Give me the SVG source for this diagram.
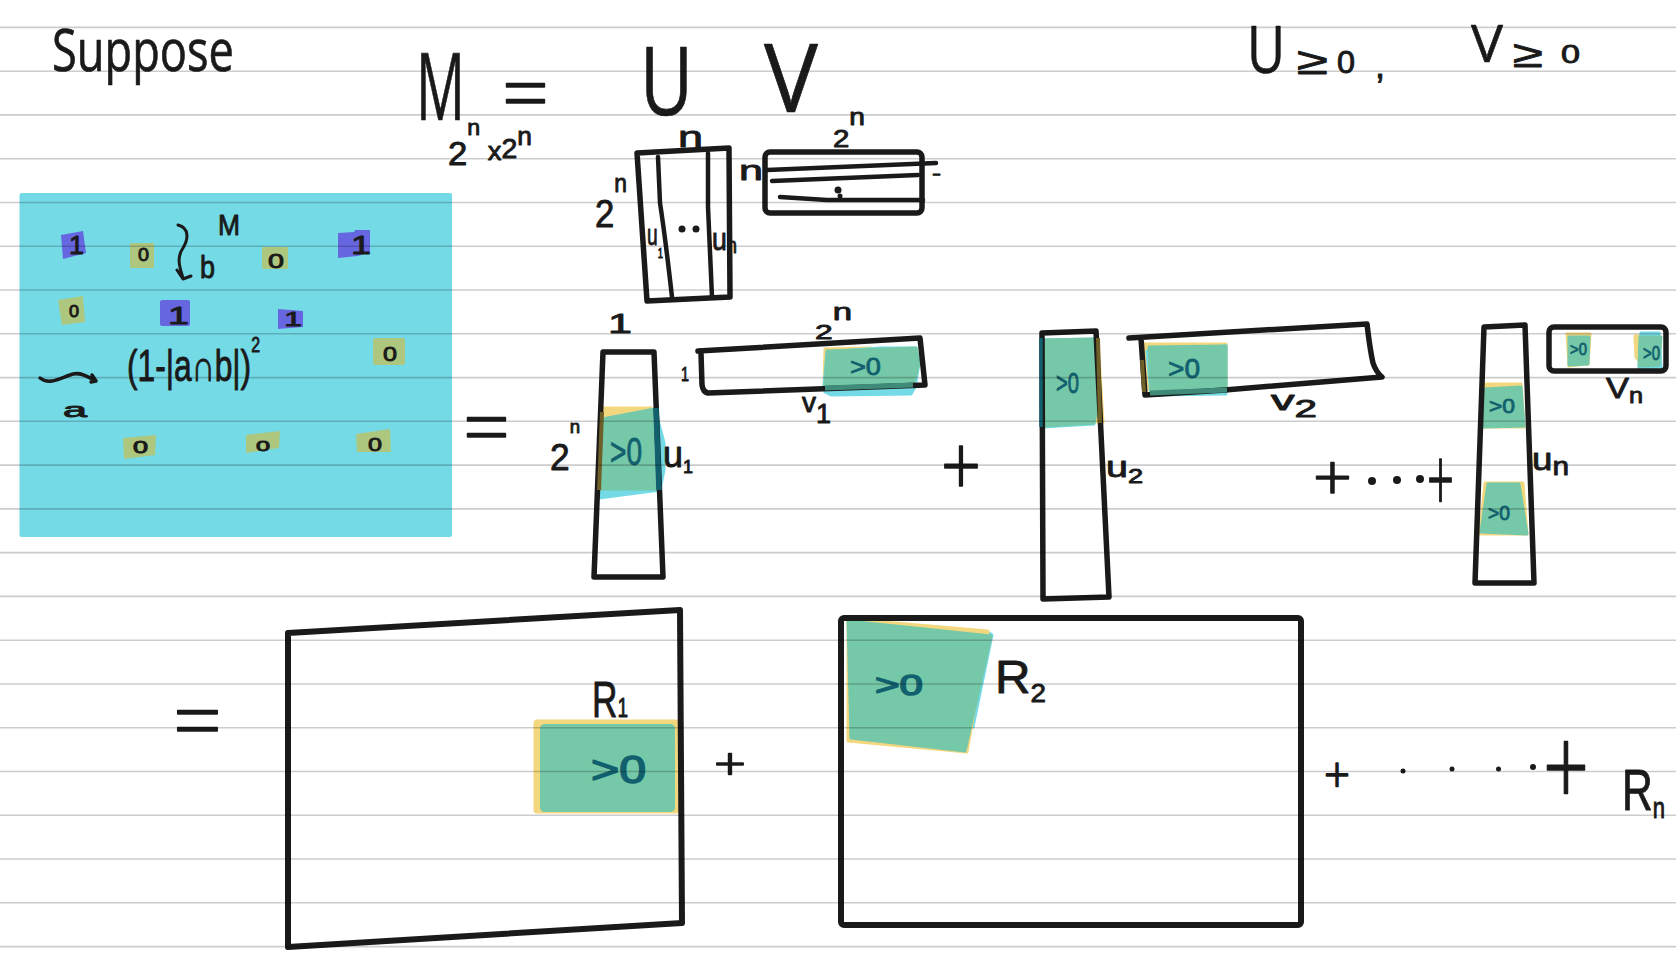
<svg xmlns="http://www.w3.org/2000/svg" width="1676" height="962" viewBox="0 0 1676 962">
<style>
text{font-family:"Liberation Sans","Open Sans",sans-serif;fill:#1a1a1a;stroke:#1a1a1a;stroke-width:.9;stroke-linejoin:round}
.b{stroke-width:.7;font-family:"Open Sans","Liberation Sans",sans-serif;font-weight:400}
.l{stroke-width:1.6;font-family:"Open Sans","Liberation Sans",sans-serif;font-weight:300}
.g{fill:#12606e;stroke:#12606e;stroke-width:.8}
.box{fill:none;stroke:#1a1a1a;stroke-width:5.5;stroke-linejoin:round;stroke-linecap:round}
.ln{fill:none;stroke:#1a1a1a;stroke-width:4.5;stroke-linejoin:round;stroke-linecap:round}
.teal{fill:none;stroke:#12606e;stroke-width:5.5}
.olive{fill:none;stroke:#6f5f28;stroke-width:4}
.deep{fill:none;stroke:#3f8a78;stroke-width:5}
.y{fill:#f3d77f;stroke:#f3d77f;stroke-width:3;stroke-linejoin:round}
.c{fill:#74dae6;stroke:#74dae6;stroke-width:3;stroke-linejoin:round}
.m{fill:#75c8a8;stroke:#75c8a8;stroke-width:3;stroke-linejoin:round}
.o{fill:#aec77e}
.p{fill:#6666e0}
.grid line{stroke:#000;stroke-opacity:.2;stroke-width:1.6}
.dot{fill:#1a1a1a}
</style>
<rect width="1676" height="962" fill="#fff"/>

<g id="matrix-panel-fill">
<rect x="19.5" y="193" width="432.5" height="344" rx="2" fill="#74dae6"/>
<polygon class="p" points="61,235 83,231 86,253 63,259"/>
<rect class="o" x="130" y="243" width="24" height="25" rx="1"/>
<rect class="o" x="262" y="247" width="26" height="22" rx="1"/>
<polygon class="p" points="338,233 354,232 355,230 370,230 370,252 358,256 338,258"/>
<polygon class="o" points="58,300 83,296 85,322 62,325"/>
<rect class="p" x="160" y="300" width="30" height="26" rx="2"/>
<polygon class="p" points="278,309 303,311 303,327 278,329"/>
<rect class="o" x="373" y="338" width="32" height="27" rx="2"/>
<polygon class="o" points="123,438 156,435 155,455 124,459"/>
<polygon class="o" points="246,435 280,431 279,448 246,453"/>
<polygon class="o" points="356,434 390,429 391,452 357,452"/>
</g>

<g id="highlights">
<polygon class="y" points="599,490 601,408 651,408 656,412 657,489"/>
<polygon class="c" points="599,498 660,490 664,470 664,443 658,420 657,409 603,419"/>
<polygon class="m" points="600,489 603,419 655,409 657,489"/>
<polygon class="y" points="824,386 825,349 870,348 880,351 880,386"/>
<polygon class="c" points="824,386 825,392 831,395 911,394 915,387 919,363 916,348 880,348 827,352"/>
<polygon class="m" points="825,386 827,351 916,348 919,363 913,385"/>
<polygon class="c" points="1042,340 1094,339 1098,403 1094,424 1042,427"/>
<polygon class="y" points="1096,339 1098,339 1103,422 1097,422"/>
<polygon class="m" points="1043,340 1094,339 1098,403 1094,423 1044,426"/>
<polygon class="y" points="1144,344 1226,344 1226,391 1144,389"/>
<polygon class="c" points="1147,351 1226,346 1226,394 1151,395"/>
<polygon class="m" points="1149,347 1226,346 1226,391 1151,392"/>
<polygon class="y" points="1484,384 1521,384 1524,427 1481,427"/>
<polygon class="m" points="1485,389 1521,387 1524,426 1483,427"/>
<polygon class="y" points="1485,483 1523,483 1527,534 1480,534"/>
<polygon class="m" points="1488,484 1519,484 1527,534 1481,532"/>
<polygon class="y" points="1567,334 1590,334 1588,364 1569,366"/>
<polygon class="m" points="1569,337 1589,337 1588,364 1569,365"/>
<polygon class="y" points="1635,336 1641,336 1641,364 1636,357"/>
<polygon class="c" points="1641,333 1659,333 1661,367 1639,369"/>
<polygon class="m" points="1640,337 1661,337 1659,365 1639,366"/>
<rect class="y" x="535" y="721" width="143" height="91" rx="2"/>
<rect class="m" x="541.500" y="725.500" width="132" height="85" rx="3"/>
<polygon class="c" points="989,633 992,635 973,727"/>
<polygon class="y" points="848,619 988,631 967,752 848,741"/>
<polygon class="m" points="848,621 991,636 965,751 851,738"/>
</g>

<g id="connectors">
<path class="ln" style="stroke-width:3" d="M178,225 C190,228 188,240 183,248 C176,258 180,268 183,278 M177,270 L183,279 L191,276"/>
<path class="ln" style="stroke-width:3.500" d="M40,378 C50,386 62,377 73,374 C82,372 90,378 96,381 M92,375 L96,381 L91,382"/>
</g>

<g id="title"><text class="b" x="52" y="71" font-size="58" textLength="182" lengthAdjust="spacingAndGlyphs">Suppose</text></g>

<g id="equation">
<text class="b" x="416" y="120" font-size="94" textLength="49" lengthAdjust="spacingAndGlyphs">M</text>
<text class="l" x="502" y="121" font-size="80" textLength="47" lengthAdjust="spacingAndGlyphs">=</text>
<text x="448" y="165" font-size="33" textLength="84" lengthAdjust="spacingAndGlyphs">2<tspan dy="-30" font-size="22">n</tspan><tspan dy="25" font-size="26"> x</tspan><tspan dy="-2" font-size="27">2</tspan><tspan dy="-13" font-size="25">n</tspan></text>
<text class="b" x="640" y="115" font-size="95" textLength="53" lengthAdjust="spacingAndGlyphs">U</text>
<text class="b" x="764" y="112" font-size="95" textLength="54" lengthAdjust="spacingAndGlyphs">V</text>
</g>

<g id="constraints">
<text class="b" x="1247" y="73" font-size="66" textLength="38" lengthAdjust="spacingAndGlyphs">U</text>
<text x="1297" y="74" font-size="38" textLength="31" lengthAdjust="spacingAndGlyphs">≥</text>
<text x="1337" y="73" font-size="31" textLength="18" lengthAdjust="spacingAndGlyphs">0</text>
<text x="1375" y="78" font-size="36" textLength="10" lengthAdjust="spacingAndGlyphs">,</text>
<text class="b" x="1471" y="62" font-size="52" textLength="32" lengthAdjust="spacingAndGlyphs">V</text>
<text x="1513" y="67" font-size="38" textLength="30" lengthAdjust="spacingAndGlyphs">≥</text>
<text x="1561" y="63" font-size="26" textLength="19" lengthAdjust="spacingAndGlyphs">0</text>
</g>

<g id="matrix-panel">
<text x="218" y="235" font-size="30" textLength="22" lengthAdjust="spacingAndGlyphs">M</text>
<text x="200" y="278" font-size="32" textLength="15" lengthAdjust="spacingAndGlyphs">b</text>
<text x="69" y="254" font-size="26" textLength="15" lengthAdjust="spacingAndGlyphs">1</text>
<text x="138" y="261" font-size="19" textLength="11" lengthAdjust="spacingAndGlyphs">0</text>
<text x="268" y="268" font-size="21" textLength="16" lengthAdjust="spacingAndGlyphs">0</text>
<text x="351" y="254" font-size="26" textLength="20" lengthAdjust="spacingAndGlyphs">1</text>
<text x="69" y="317" font-size="16" textLength="10" lengthAdjust="spacingAndGlyphs">0</text>
<text x="168" y="324" font-size="24" textLength="21" lengthAdjust="spacingAndGlyphs">1</text>
<text x="284" y="326" font-size="21" textLength="18" lengthAdjust="spacingAndGlyphs">1</text>
<text x="383" y="361" font-size="21" textLength="14" lengthAdjust="spacingAndGlyphs">0</text>
<text x="133" y="453" font-size="16" textLength="15" lengthAdjust="spacingAndGlyphs">0</text>
<text x="256" y="451" font-size="15" textLength="14" lengthAdjust="spacingAndGlyphs">0</text>
<text x="368" y="451" font-size="19" textLength="14" lengthAdjust="spacingAndGlyphs">0</text>
<text x="127" y="381" font-size="44" textLength="133" lengthAdjust="spacingAndGlyphs">(1-|a∩b|)<tspan dy="-29" font-size="22">2</tspan></text>
<text x="63" y="417" font-size="21" textLength="24" lengthAdjust="spacingAndGlyphs">a</text>
</g>

<g id="matrix-U">
<path class="box" d="M637,153 L729,148 L730,297 L647,301 Z"/>
<path class="ln" d="M658,157 L660,203 Q665,235 672,297 M708,153 L708,207 L712,297"/>
<circle class="dot" cx="682" cy="229" r="3.500"/><circle class="dot" cx="696" cy="229" r="3.500"/>
<text x="678" y="147" font-size="30" textLength="25" lengthAdjust="spacingAndGlyphs">n</text>
<text x="595" y="227" font-size="38" textLength="32" lengthAdjust="spacingAndGlyphs">2<tspan dy="-35" font-size="25">n</tspan></text>
<text x="647" y="245" font-size="30" textLength="16" lengthAdjust="spacingAndGlyphs">u<tspan dy="13" font-size="15">1</tspan></text>
<text x="712" y="250" font-size="32" textLength="25" lengthAdjust="spacingAndGlyphs">u<tspan dy="3" font-size="22">n</tspan></text>
</g>

<g id="matrix-V">
<rect class="box" x="765" y="152" width="157" height="61" rx="5"/>
<path class="ln" d="M767,170 L936,163 M772,181 L918,175 M780,197 L827,200 L923,200"/>
<circle class="dot" cx="838" cy="190" r="3.500"/><circle class="dot" cx="840" cy="196" r="2.500"/>
<text x="739" y="180" font-size="28" textLength="24" lengthAdjust="spacingAndGlyphs">n</text>
<text x="932" y="180" font-size="18" textLength="9" lengthAdjust="spacingAndGlyphs">-</text>
<text x="833" y="147" font-size="24" textLength="32" lengthAdjust="spacingAndGlyphs">2<tspan dy="-22" font-size="23">n</tspan></text>
</g>

<g id="equals-1"><text class="l" x="463" y="455" font-size="80" textLength="47" lengthAdjust="spacingAndGlyphs">=</text></g>

<g id="term-1">
<path class="box" d="M603,352 L654,352 L663,577 L594,577 Z"/>
<path class="box" d="M698,351 L920,338 L925,385 L708,393 Q703,392 702,385 L701,353"/>
<path class="olive" d="M602,412 L599,490"/>
<path class="teal" d="M656,408 L659,490"/>
<path class="deep" d="M825,388 L913,385"/>
<text x="608" y="333" font-size="28" textLength="24" lengthAdjust="spacingAndGlyphs">1</text>
<text x="550" y="470" font-size="36" textLength="30" lengthAdjust="spacingAndGlyphs">2<tspan dy="-37" font-size="19">n</tspan></text>
<text x="663" y="467" font-size="36" textLength="30" lengthAdjust="spacingAndGlyphs">u<tspan dy="6" font-size="18">1</tspan></text>
<text x="815" y="339" font-size="21" textLength="37" lengthAdjust="spacingAndGlyphs">2<tspan dy="-19" font-size="23">n</tspan></text>
<text x="681" y="381" font-size="20" textLength="8" lengthAdjust="spacingAndGlyphs">1</text>
<text x="802" y="412" font-size="28" textLength="29" lengthAdjust="spacingAndGlyphs">v<tspan dy="11" font-size="27">1</tspan></text>
<text class="g" x="610" y="465" font-size="38" textLength="32" lengthAdjust="spacingAndGlyphs">&gt;0</text>
<text class="g" x="850" y="375" font-size="24" textLength="31" lengthAdjust="spacingAndGlyphs">&gt;0</text>
<text class="l" x="941" y="496" font-size="85" textLength="40" lengthAdjust="spacingAndGlyphs">+</text>
</g>

<g id="term-2">
<path class="box" d="M1042,333 L1096,331 L1109,597 L1043,599 Z"/>
<path class="box" d="M1129,338 L1367,324 Q1370,350 1373,363 Q1376,372 1382,377 L1225,390 L1145,395 L1141,338"/>
<path class="teal" style="stroke-width:3.500" d="M1041,338 L1041,427"/>
<path class="olive" d="M1098,338 L1100,423 M1142,360 L1144,392"/>
<path class="deep" d="M1150,393 L1227,390"/>
<text class="g" x="1056" y="393" font-size="29" textLength="23" lengthAdjust="spacingAndGlyphs">&gt;0</text>
<text class="g" x="1168" y="378" font-size="28" textLength="32" lengthAdjust="spacingAndGlyphs">&gt;0</text>
<text x="1106" y="477" font-size="29" textLength="37" lengthAdjust="spacingAndGlyphs">u<tspan dy="6" font-size="20">2</tspan></text>
<text x="1271" y="410" font-size="28" textLength="46" lengthAdjust="spacingAndGlyphs">v<tspan dy="7" font-size="24">2</tspan></text>
</g>

<g id="ellipsis-1">
<text class="l" x="1313" y="500" font-size="65" textLength="39" lengthAdjust="spacingAndGlyphs">+</text>
<circle class="dot" cx="1372" cy="481" r="4"/><circle class="dot" cx="1397" cy="480" r="4"/><circle class="dot" cx="1420" cy="479" r="4"/>
<text class="l" x="1427" y="512" font-size="90" textLength="27" lengthAdjust="spacingAndGlyphs">+</text>
</g>

<g id="term-n">
<path class="box" d="M1484,327 L1525,325 L1534,583 L1475,583 Z"/>
<rect class="box" x="1549" y="327" width="117" height="44" rx="5"/>
<text class="g" x="1489" y="413" font-size="20" textLength="26" lengthAdjust="spacingAndGlyphs">&gt;0</text>
<text class="g" x="1488" y="520" font-size="20" textLength="22" lengthAdjust="spacingAndGlyphs">&gt;0</text>
<text class="g" x="1570" y="355" font-size="17" textLength="17" lengthAdjust="spacingAndGlyphs">&gt;0</text>
<text class="g" x="1643" y="360" font-size="21" textLength="17" lengthAdjust="spacingAndGlyphs">&gt;0</text>
<text x="1532" y="470" font-size="32" textLength="37" lengthAdjust="spacingAndGlyphs">u<tspan dy="5" font-size="26">n</tspan></text>
<text x="1606" y="398" font-size="30" textLength="37" lengthAdjust="spacingAndGlyphs">V<tspan dy="5" font-size="22">n</tspan></text>
</g>

<g id="equals-2"><text class="l" x="173" y="751" font-size="84" textLength="49" lengthAdjust="spacingAndGlyphs">=</text></g>

<g id="R1">
<path class="box" style="stroke-width:6" d="M288,633 L680,610 L682,923 L288,947 Z"/>
<text x="592" y="717" font-size="50" textLength="36" lengthAdjust="spacingAndGlyphs">R<tspan font-size="27">1</tspan></text>
<text class="g" style="stroke-width:1.500" x="591" y="783" font-size="38" textLength="55" lengthAdjust="spacingAndGlyphs">&gt;0</text>
<text class="l" x="714" y="780" font-size="45" textLength="32" lengthAdjust="spacingAndGlyphs">+</text>
</g>

<g id="R2">
<rect class="box" style="stroke-width:6" x="841" y="618" width="460" height="307" rx="3"/>
<text class="g" style="stroke-width:1.500" x="875" y="695" font-size="30" textLength="48" lengthAdjust="spacingAndGlyphs">&gt;0</text>
<text x="995" y="693" font-size="46" textLength="51" lengthAdjust="spacingAndGlyphs">R<tspan dy="9" font-size="26">2</tspan></text>
</g>

<g id="ellipsis-2">
<text class="l" x="1324" y="793" font-size="50" textLength="26" lengthAdjust="spacingAndGlyphs">+</text>
<circle class="dot" cx="1403" cy="771" r="2.500"/><circle class="dot" cx="1452" cy="769" r="2.500"/><circle class="dot" cx="1498.500" cy="769" r="2.500"/><circle class="dot" cx="1533" cy="767" r="3"/>
<text class="l" x="1543" y="807" font-size="110" textLength="46" lengthAdjust="spacingAndGlyphs">+</text>
<text x="1622" y="810" font-size="58" textLength="43" lengthAdjust="spacingAndGlyphs">R<tspan dy="8" font-size="30">n</tspan></text>
</g>

<g class="grid">
<line x1="0" x2="1676" y1="27.4" y2="27.4"/><line x1="0" x2="1676" y1="71.2" y2="71.2"/><line x1="0" x2="1676" y1="114.9" y2="114.9"/><line x1="0" x2="1676" y1="158.7" y2="158.7"/><line x1="0" x2="1676" y1="202.5" y2="202.5"/><line x1="0" x2="1676" y1="246.3" y2="246.3"/><line x1="0" x2="1676" y1="290" y2="290"/><line x1="0" x2="1676" y1="333.8" y2="333.8"/><line x1="0" x2="1676" y1="377.6" y2="377.6"/><line x1="0" x2="1676" y1="421.3" y2="421.3"/><line x1="0" x2="1676" y1="465.1" y2="465.1"/><line x1="0" x2="1676" y1="508.9" y2="508.9"/><line x1="0" x2="1676" y1="552.6" y2="552.6"/><line x1="0" x2="1676" y1="596.4" y2="596.4"/><line x1="0" x2="1676" y1="640.2" y2="640.2"/><line x1="0" x2="1676" y1="684" y2="684"/><line x1="0" x2="1676" y1="727.7" y2="727.7"/><line x1="0" x2="1676" y1="771.5" y2="771.5"/><line x1="0" x2="1676" y1="815.3" y2="815.3"/><line x1="0" x2="1676" y1="859" y2="859"/><line x1="0" x2="1676" y1="902.8" y2="902.8"/><line x1="0" x2="1676" y1="946.6" y2="946.6"/>
</g>
</svg>
